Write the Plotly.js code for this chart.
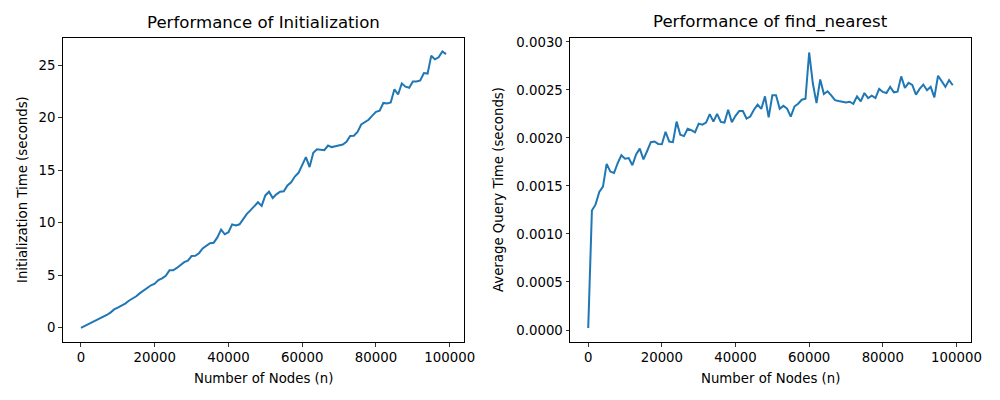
<!DOCTYPE html>
<html>
<head>
<meta charset="utf-8">
<script src="https://cdn.plot.ly/plotly-3.0.1.min.js"></script>
<style>html,body{margin:0;padding:0;background:#fff;}#chart{width:1000px;height:400px;}</style>
</head>
<body>
<div id="chart"></div>
<script>
// Number of nodes (x values): 0, 1000, ..., 99000
const nodeCounts = [
  0,1000,2000,3000,4000,5000,6000,7000,8000,9000,
  10000,11000,12000,13000,14000,15000,16000,17000,18000,19000,
  20000,21000,22000,23000,24000,25000,26000,27000,28000,29000,
  30000,31000,32000,33000,34000,35000,36000,37000,38000,39000,
  40000,41000,42000,43000,44000,45000,46000,47000,48000,49000,
  50000,51000,52000,53000,54000,55000,56000,57000,58000,59000,
  60000,61000,62000,63000,64000,65000,66000,67000,68000,69000,
  70000,71000,72000,73000,74000,75000,76000,77000,78000,79000,
  80000,81000,82000,83000,84000,85000,86000,87000,88000,89000,
  90000,91000,92000,93000,94000,95000,96000,97000,98000,99000
];

// Initialization time (seconds)
const initTimes = [
  0.00,0.18,0.33,0.48,0.65,0.88,1.05,1.22,1.45,1.75,
  1.92,2.08,2.30,2.58,2.78,3.00,3.30,3.55,3.82,4.05,
  4.20,4.55,4.70,4.95,5.47,5.48,5.70,6.00,6.25,6.40,
  6.83,6.85,7.10,7.55,7.80,8.05,8.10,8.60,9.35,8.90,
  9.10,9.85,9.75,9.85,10.35,10.85,11.20,11.55,11.95,11.60,
  12.60,12.95,12.35,12.70,12.95,13.00,13.55,13.85,14.40,14.75,
  15.50,16.25,15.30,16.65,17.00,16.95,16.90,17.35,17.20,17.28,
  17.38,17.45,17.70,18.25,18.28,18.65,19.35,19.55,19.80,20.20,
  20.55,20.67,21.40,21.35,21.45,22.70,22.20,23.25,22.95,22.85,
  23.45,23.45,23.55,24.25,24.20,25.90,25.55,25.75,26.30,26.05
];

// Average query time of find_nearest (seconds)
const queryTimes = [
  0.000020,0.001244,0.001308,0.001438,0.001494,0.001730,0.001650,0.001635,0.001737,0.001820,
  0.001783,0.001790,0.001716,0.001829,0.001889,0.001776,0.001864,0.001956,0.001963,0.001938,
  0.001935,0.002064,0.001963,0.001956,0.002170,0.002033,0.002019,0.002096,0.002082,0.002058,
  0.002149,0.002139,0.002160,0.002248,0.002170,0.002251,0.002167,0.002160,0.002294,0.002163,
  0.002230,0.002280,0.002280,0.002202,0.002223,0.002294,0.002347,0.002303,0.002433,0.002215,
  0.002444,0.002444,0.002303,0.002334,0.002306,0.002222,0.002327,0.002356,0.002398,0.002408,
  0.002890,0.002567,0.002363,0.002609,0.002458,0.002486,0.002444,0.002394,0.002384,0.002373,
  0.002370,0.002377,0.002356,0.002433,0.002380,0.002468,0.002415,0.002440,0.002415,0.002511,
  0.002479,0.002468,0.002532,0.002475,0.002482,0.002641,0.002521,0.002574,0.002553,0.002451,
  0.002511,0.002556,0.002496,0.002532,0.002422,0.002648,0.002585,0.002532,0.002602,0.002549
];

const xTicks = [0, 20000, 40000, 60000, 80000, 100000];
const leftYTicks = [0, 5, 10, 15, 20, 25];
const rightYTicks = [0, 0.0005, 0.0010, 0.0015, 0.0020, 0.0025, 0.0030];

const FONT = "DejaVu Sans, Liberation Sans, sans-serif";
const lineColor = "#1f77b4";

const traces = [
  {x: nodeCounts, y: initTimes, type: "scatter", mode: "lines",
   line: {color: lineColor, width: 2}, xaxis: "x", yaxis: "y", hoverinfo: "skip"},
  {x: nodeCounts, y: queryTimes, type: "scatter", mode: "lines",
   line: {color: lineColor, width: 2}, xaxis: "x2", yaxis: "y2", hoverinfo: "skip"}
];

const axisCommon = {
  showline: true, mirror: true, linecolor: "#000", linewidth: 1,
  showgrid: false, zeroline: false,
  ticks: "outside", ticklen: 3.5, tickwidth: 0.8, tickcolor: "#000",
  tickfont: {family: FONT, size: 13.3, color: "#000"}
};

const yDom = [0.145, 0.906];

const layout = {
  width: 1000, height: 400,
  margin: {l: 0, r: 0, t: 0, b: 0},
  paper_bgcolor: "#fff", plot_bgcolor: "#fff",
  showlegend: false,
  font: {family: FONT, color: "#000"},
  xaxis: Object.assign({}, axisCommon, {domain: [0.0627, 0.4643], range: [-4950, 103950],
    tickvals: xTicks, ticktext: xTicks.map(String), anchor: "y"}),
  yaxis: Object.assign({}, axisCommon, {domain: yDom, range: [-1.35, 27.62],
    tickvals: leftYTicks, ticktext: leftYTicks.map(String), anchor: "x"}),
  xaxis2: Object.assign({}, axisCommon, {domain: [0.570, 0.971], range: [-4950, 103950],
    tickvals: xTicks, ticktext: xTicks.map(String), anchor: "y2"}),
  yaxis2: Object.assign({}, axisCommon, {domain: yDom, range: [-0.000125, 0.003045],
    tickvals: rightYTicks, ticktext: rightYTicks.map(v => v.toFixed(4)), anchor: "x2"}),
  annotations: [
    {text: "Performance of Initialization", xref: "paper", yref: "paper",
     x: (0.0627 + 0.4643) / 2, y: 1 - 22 / 400, xanchor: "center", yanchor: "middle",
     showarrow: false, font: {family: FONT, size: 16.6, color: "#000"}},
    {text: "Performance of find_nearest", xref: "paper", yref: "paper",
     x: (0.570 + 0.971) / 2, y: 1 - 22 / 400, xanchor: "center", yanchor: "middle",
     showarrow: false, font: {family: FONT, size: 16.6, color: "#000"}},
    {text: "Number of Nodes (n)", xref: "paper", yref: "paper",
     x: (0.0627 + 0.4643) / 2, y: 1 - 378 / 400, xanchor: "center", yanchor: "middle",
     showarrow: false, font: {family: FONT, size: 13.3, color: "#000"}},
    {text: "Number of Nodes (n)", xref: "paper", yref: "paper",
     x: (0.570 + 0.971) / 2, y: 1 - 378 / 400, xanchor: "center", yanchor: "middle",
     showarrow: false, font: {family: FONT, size: 13.3, color: "#000"}},
    {text: "Initialization Time (seconds)", xref: "paper", yref: "paper",
     x: 22 / 1000, y: 1 - 190 / 400, xanchor: "center", yanchor: "middle", textangle: -90,
     showarrow: false, font: {family: FONT, size: 13.3, color: "#000"}},
    {text: "Average Query Time (seconds)", xref: "paper", yref: "paper",
     x: 498 / 1000, y: 1 - 190 / 400, xanchor: "center", yanchor: "middle", textangle: -90,
     showarrow: false, font: {family: FONT, size: 13.3, color: "#000"}}
  ]
};

Plotly.newPlot("chart", traces, layout, {staticPlot: true, displayModeBar: false});
</script>
</body>
</html>
